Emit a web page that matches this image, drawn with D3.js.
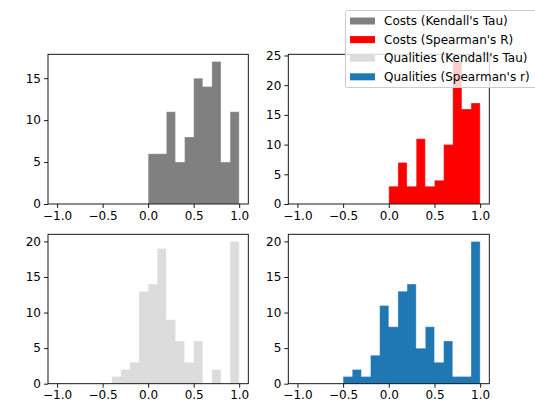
<!DOCTYPE html>
<html>
<head>
<meta charset="utf-8">
<script src="https://cdn.jsdelivr.net/npm/d3@7"></script>
<style>
  html, body { margin: 0; padding: 0; background: #fff; }
  svg text { font-family: "DejaVu Sans", sans-serif; }
</style>
</head>
<body>
<div id="chart"></div>
<script>
// bin width 0.1, lower edges of each bin
const costBins = [0.0, 0.1, 0.2, 0.3, 0.4, 0.5, 0.6, 0.7, 0.8, 0.9];
const qualKendallBins = [-0.4, -0.3, -0.2, -0.1, 0.0, 0.1, 0.2, 0.3, 0.4, 0.5, 0.6, 0.7, 0.8, 0.9];
const qualSpearmanBins = [-0.5, -0.4, -0.3, -0.2, -0.1, 0.0, 0.1, 0.2, 0.3, 0.4, 0.5, 0.6, 0.7, 0.8, 0.9];
const binWidth = 0.1;

// counts
const costsKendall = [6, 6, 11, 5, 8, 15, 14, 17, 5, 11];
const costsSpearman = [3, 7, 3, 11, 3, 4, 10, 24, 16, 17];
const qualitiesKendall = [1, 2, 3, 13, 14, 19, 9, 6, 3, 6, 0, 2, 0, 20];
const qualitiesSpearman = [1, 2, 1, 4, 11, 8, 13, 14, 5, 8, 3, 6, 1, 1, 20];

const seriesNames = ["Costs (Kendall's Tau)", "Costs (Spearman's R)", "Qualities (Kendall's Tau)", "Qualities (Spearman's r)"];
const seriesColors = ["#808080", "#ff0000", "#dcdcdc", "#1f77b4"];

const xTicks = [-1.0, -0.5, 0.0, 0.5, 1.0];

var width = 535, height = 406;
var svg = d3.select("#chart").append("svg")
  .attr("width", width)
  .attr("height", height);

// panel boxes: left, right, top, bottom (pixels)
var panels = [
  { bins: costBins, counts: costsKendall, color: seriesColors[0], box: [48, 248.3, 54.3, 204], yMax: 17 * 1.05, yTicks: [0, 5, 10, 15] },
  { bins: costBins, counts: costsSpearman, color: seriesColors[1], box: [288.3, 489.3, 54.3, 204], yMax: 24 * 1.05, yTicks: [0, 5, 10, 15, 20, 25] },
  { bins: qualKendallBins, counts: qualitiesKendall, color: seriesColors[2], box: [48, 248.3, 234.3, 383.7], yMax: 20 * 1.05, yTicks: [0, 5, 10, 15, 20] },
  { bins: qualSpearmanBins, counts: qualitiesSpearman, color: seriesColors[3], box: [288.3, 489.3, 234.3, 383.7], yMax: 20 * 1.05, yTicks: [0, 5, 10, 15, 20] }
];

panels.forEach(function (p) {
  var x = d3.scaleLinear().domain([-1.1, 1.1]).range([p.box[0], p.box[1]]);
  var y = d3.scaleLinear().domain([0, p.yMax]).range([p.box[3], p.box[2]]);
  var g = svg.append("g");

  // bars, drawn as one filled step outline per histogram
  var bars = p.counts.map(function (c, i) { return { x0: p.bins[i], n: c }; });
  var pts = [[bars[0].x0, 0]];
  bars.forEach(function (d) {
    pts.push([d.x0, d.n]);
    pts.push([d.x0 + binWidth, d.n]);
  });
  pts.push([bars[bars.length - 1].x0 + binWidth, 0]);

  var line = d3.line().x(function (d) { return x(d[0]); }).y(function (d) { return y(d[1]); });
  g.append("path")
    .attr("d", line(pts) + "Z")
    .attr("fill", p.color)
    .attr("stroke", "#fff")
    .attr("stroke-opacity", 0.4)
    .attr("stroke-width", 0.8)
    .attr("stroke-linejoin", "miter");

  // axes
  var xAxis = d3.axisBottom(x).tickValues(xTicks).tickFormat(d3.format(".1f")).tickSizeInner(4).tickSizeOuter(0).tickPadding(3);
  var yAxis = d3.axisLeft(y).tickValues(p.yTicks).tickFormat(d3.format("d")).tickSizeInner(4).tickSizeOuter(0).tickPadding(3);

  var gx = g.append("g").attr("transform", "translate(0," + p.box[3] + ")").call(xAxis);
  var gy = g.append("g").attr("transform", "translate(" + p.box[0] + ",0)").call(yAxis);
  [gx, gy].forEach(function (a) {
    a.select(".domain").remove();
    a.selectAll("text").style("font-size", "12px").attr("fill", "#000")
      .text(function (d) { return d3.select(this).text().replace("-", "\u2212"); });
    a.selectAll("line").attr("stroke", "#000").attr("stroke-width", 0.9);
  });

  // frame
  g.append("rect")
    .attr("x", p.box[0]).attr("y", p.box[2])
    .attr("width", p.box[1] - p.box[0]).attr("height", p.box[3] - p.box[2])
    .attr("fill", "none").attr("stroke", "#000").attr("stroke-width", 0.9);
});

// legend on top
var lg = svg.append("g").attr("transform", "translate(345.5,10.5)");
lg.append("rect")
  .attr("width", 200).attr("height", 77)
  .attr("rx", 2)
  .attr("fill", "#fff").attr("fill-opacity", 0.8)
  .attr("stroke", "#ccc").attr("stroke-width", 1);

seriesNames.forEach(function (name, i) {
  var cy = 10.5 + i * 18.6;
  lg.append("rect")
    .attr("x", 4.5).attr("y", cy - 3.5)
    .attr("width", 25).attr("height", 7)
    .attr("fill", seriesColors[i]);
  lg.append("text")
    .attr("x", 38.5).attr("y", cy)
    .attr("dy", "0.35em")
    .style("font-size", "12px")
    .attr("fill", "#000")
    .text(name);
});
</script>
</body>
</html>
